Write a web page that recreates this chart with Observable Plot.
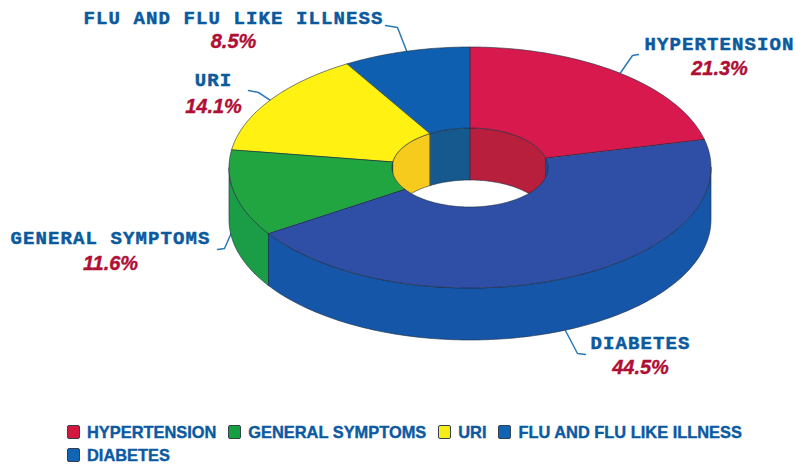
<!DOCTYPE html>
<html><head><meta charset="utf-8">
<script src="https://cdn.jsdelivr.net/npm/d3@7"></script>
<script src="https://cdn.jsdelivr.net/npm/@observablehq/plot@0.6"></script>
<style>
html,body{margin:0;padding:0;background:#fff;}
#chart{width:796px;height:465px;overflow:hidden;}
.slab text{letter-spacing:1.1px;}
#legend{display:flex;flex-wrap:wrap;width:690px;margin-left:67px;margin-top:2px;column-gap:12px;row-gap:3px;
 font:bold 16.4px "Liberation Sans",sans-serif;color:#0b5aa2;-webkit-text-stroke:0.4px #0b5aa2;line-height:20px;}
#legend span.i{display:flex;align-items:center;height:20px;}
#legend i{display:inline-block;width:11px;height:12px;border:1.5px solid #33404f;border-radius:2px;margin-right:7px;}
</style></head><body><div id="chart"></div>
<script>
// Data, clockwise from twelve o'clock
const categories = ["HYPERTENSION","DIABETES","GENERAL SYMPTOMS","URI","FLU AND FLU LIKE ILLNESS"];
const shares = [21.3,44.5,11.6,14.1,8.5];
const legendOrder = ["HYPERTENSION","GENERAL SYMPTOMS","URI","FLU AND FLU LIKE ILLNESS","DIABETES"];

// Styles
const faceColors  = ["#d8194d","#2f4fa6","#21a541","#fff112","#0f5fb0"];
const wallColors  = ["#b81f3c","#1656a8","#1b9c46","#f6cb1e","#15598f"];
const legendColors= ["#d4173f","#14a040","#f7ee18","#1264b4","#1264b4"];
const inkBlue="#0b5a9e", inkRed="#b00f35", edge="#1d2b3c", leaderBlue="#2a79b8";

// Label layout
const labelX   = [719,640,110,213,233];
const nameY    = [49,348,243,85,23];
const pctY     = [74,373,269,112,47];
const elbowX   = [[632,638],[577,585],[224,217],[258,248],[397,385]];
const elbowY   = [[55,54],[353,354],[248,249],[92,90],[27,25]];

// Projection of the tilted ring
const cx=470, cy=167.5, rx=241, ry=120.5, irx=78, iry=39.5, depth=52;
const ex=(a,r)=>cx+r*Math.sin(a*Math.PI/180);
const ey=(a,r)=>cy-r*Math.cos(a*Math.PI/180);

let acc=0;
const slices=categories.map((name,i)=>{const s=acc*3.6; acc+=shares[i]; return {name,i,share:shares[i],start:s,end:acc*3.6,mid:(s+acc*3.6)/2};});

function sweep(a0,a1,fn){ // samples an angular range
  if(a1<=a0) return [];
  const n=Math.max(2,Math.ceil(a1-a0)), out=[];
  for(let k=0;k<=n;k++) out.push(fn(a0+(a1-a0)*k/n));
  return out;
}
const face=slices.flatMap(s=>sweep(s.start,s.end,a=>({k:s.i,color:faceColors[s.i],x1:ex(a,irx),y1:ey(a,iry),x2:ex(a,rx),y2:ey(a,ry)})));
// front of outer wall: angles 90..270
const outerWall=slices.flatMap(s=>sweep(Math.max(s.start,90),Math.min(s.end,270),a=>({k:s.i,color:wallColors[s.i],x1:ex(a,rx),y1:ey(a,ry),x2:ex(a,rx),y2:ey(a,ry)+depth})));
// back of the hole wall: angles 270..360 and 0..90
const holeWall=slices.flatMap(s=>[[0,90],[270,360]].flatMap(([lo,hi],j)=>sweep(Math.max(s.start,lo),Math.min(s.end,hi),a=>({k:s.i+"-"+j,color:wallColors[s.i],x1:ex(a,irx),y1:ey(a,iry),x2:ex(a,irx),y2:ey(a,iry)+depth}))));

// leaders start on the ring at each slice's middle angle
const leaders=slices.flatMap(s=>{
  const onWall=s.mid>90&&s.mid<270;
  const drop=s.i===1?depth:(s.i===2?depth*0.6:0);
  const pts=[{x:ex(s.mid,rx),y:ey(s.mid,ry)+(onWall?drop:0)}];
  elbowX[s.i].forEach((x,j)=>pts.push({x,y:elbowY[s.i][j]}));
  return pts.map(p=>({...p,k:s.i}));
});

const area=(rows)=>Plot.area(rows,{x1:"x1",y1:"y1",x2:"x2",y2:"y2",z:"k",fill:"color",stroke:edge,strokeWidth:0.8,strokeOpacity:0.75,curve:"linear"});

const svg=Plot.plot({
  width:796,height:420,margin:0,className:"ring",
  x:{domain:[0,796],range:[0,796],axis:null},
  y:{domain:[0,420],range:[0,420],axis:null},
  color:{type:"identity"},
  style:{background:"white"},
  marks:[
    Plot.line(leaders,{x:"x",y:"y",z:"k",stroke:leaderBlue,strokeWidth:1.5,curve:"linear"}),
    area(outerWall),
    area(holeWall),
    area(face),
    Plot.text(slices,{x:d=>labelX[d.i],y:d=>nameY[d.i],text:"name",className:"slab",lineAnchor:"bottom",textAnchor:"middle",
      fontFamily:"Liberation Mono",fontWeight:"bold",fontSize:19,fill:inkBlue,stroke:inkBlue,strokeWidth:0.5}),
    Plot.text(slices,{x:d=>labelX[d.i],y:d=>pctY[d.i],text:d=>d.share.toFixed(1)+"%",lineAnchor:"bottom",textAnchor:"middle",
      fontFamily:"Liberation Sans",fontWeight:"bold",fontStyle:"italic",fontSize:20,fill:inkRed,stroke:inkRed,strokeWidth:0.4})
  ]
});
const root=document.getElementById("chart");
root.appendChild(svg);
const lg=document.createElement("div"); lg.id="legend";
legendOrder.forEach((n,i)=>{
  const it=document.createElement("span"); it.className="i";
  const sw=document.createElement("i"); sw.style.background=legendColors[i];
  it.appendChild(sw); it.appendChild(document.createTextNode(n)); lg.appendChild(it);
});
root.appendChild(lg);
</script></body></html>
